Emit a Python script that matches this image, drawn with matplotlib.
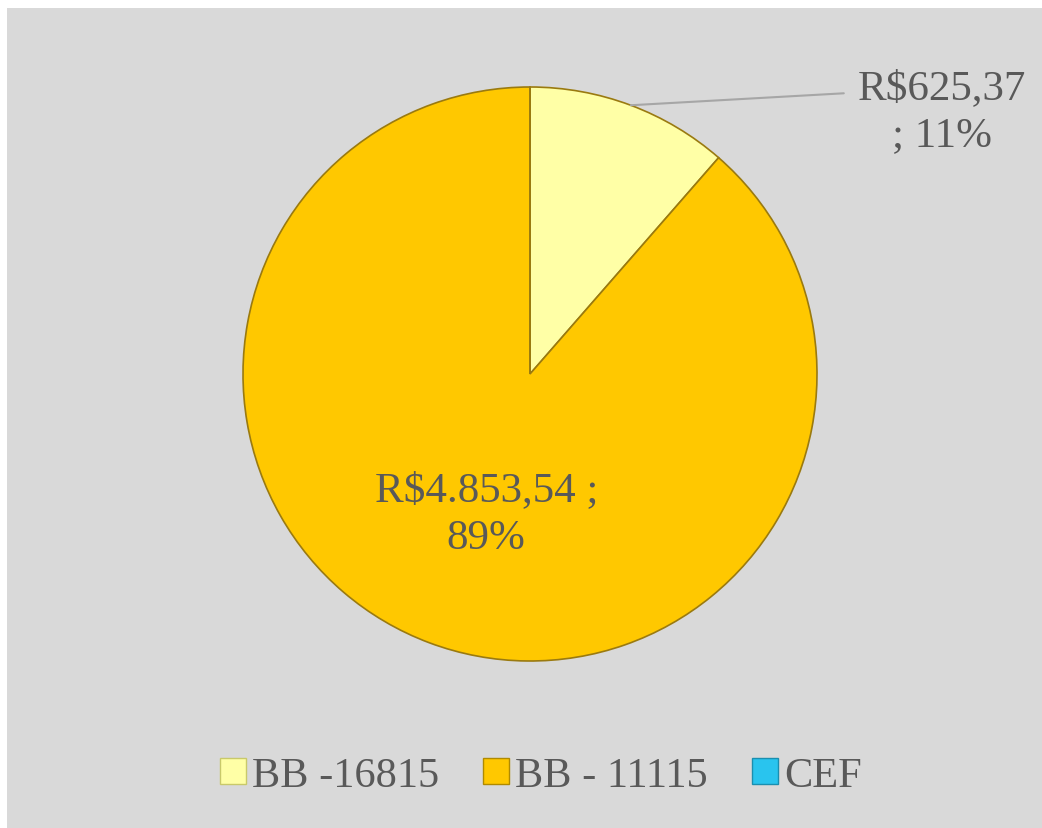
import numpy as np
import matplotlib.pyplot as plt
from matplotlib.patches import Rectangle
from matplotlib.lines import Line2D

# data
labels = ['BB -16815', 'BB - 11115', 'CEF']
values = [625.37, 4853.54, 0.0]
value_txt = ['R$625,37', 'R$4.853,54', '']
colors = ['#ffffa6', '#ffc800', '#29c4ee']
edges = ['#c9c96a', '#b08a00', '#1a8fb0']

txt_col = '#595959'
font = ['Liberation Serif', 'DejaVu Serif']

W, H = 1042, 829
fig = plt.figure(figsize=(W/100, H/100), dpi=100)
fig.patch.set_facecolor('white')
fig.patches.append(Rectangle((7/W, 0), 1, 1 - 9/H, transform=fig.transFigure,
                             facecolor='#d9d9d9', edgecolor='none', zorder=-5))

cx, cy, r = 530, 375, 287
ax = fig.add_axes([(cx - r)/W, (H - cy - r)/H, 2*r/W, 2*r/H])
ax.set_zorder(2)
ax.set_facecolor('none')
wedges, _ = ax.pie(values, colors=colors, startangle=90, counterclock=False,
                   wedgeprops=dict(edgecolor='#9a7a10', linewidth=1.2))
ax.set_xlim(-1, 1)
ax.set_ylim(-1, 1)
ax.set_aspect('equal')
ax.axis('off')

total = sum(values)
pct = [v / total * 100 for v in values]

# slice 1: outside label with leader line
w = wedges[0]
ang = np.deg2rad((w.theta1 + w.theta2) / 2)
x0, y0 = np.cos(ang), np.sin(ang)
ax.annotate('%s\n; %d%%' % (value_txt[0], round(pct[0])), xy=(x0, y0),
            xytext=(1.435, 0.915), textcoords='data', ha='center', va='center',
            fontsize=31, color=txt_col, family=font, linespacing=1.3,
            annotation_clip=False,
            arrowprops=dict(arrowstyle='-', color='#a6a6a6', lw=1.5,
                            shrinkA=8, shrinkB=0, relpos=(0, 0.72)))

# slice 2: inside label
w = wedges[1]
ang = np.deg2rad((w.theta1 + w.theta2) / 2)
ax.text(0.52*np.cos(ang) + 0.03, 0.52*np.sin(ang), '%s ;\n%d%%' % (value_txt[1], round(pct[1])),
        ha='center', va='center', fontsize=31, color=txt_col, family=font,
        linespacing=1.3)

handles = [Line2D([], [], marker='s', linestyle='none', markersize=18.5,
                  markerfacecolor=c, markeredgecolor=e, markeredgewidth=1)
           for c, e in zip(colors, edges)]
fig.legend(handles, labels, loc='center', bbox_to_anchor=(0.518, 1 - 777/H),
           ncol=3, frameon=False, handlelength=0.7,
           handletextpad=0.1, columnspacing=1.0,
           prop=dict(family=font, size=30.5), labelcolor=txt_col)

fig.savefig('out.png', dpi=100)
